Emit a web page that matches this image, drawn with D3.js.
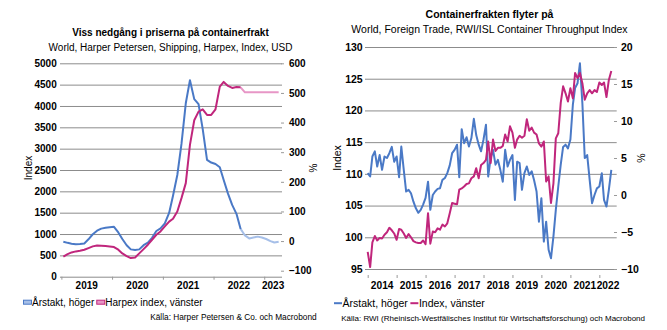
<!DOCTYPE html>
<html>
<head>
<meta charset="utf-8">
<script src="https://cdn.jsdelivr.net/npm/d3@7"></script>
<style>
  body { margin: 0; background: #fff; }
  svg text { font-family: "Liberation Sans", Arial, sans-serif; fill: #000; }
</style>
</head>
<body>
<svg id="chart" width="667" height="330"></svg>
<script>

// ---------------- harpex panel, monthly from jan 2019 ----------------
var harpexStart = new Date(2019, 0, 15);
var harpexIndex = [
  468, 530, 569, 593, 608, 632, 671, 710, 733, 725, 718, 710,
  694, 632, 546, 484, 437, 452, 546, 647, 749, 866, 983, 1061,
  1178, 1290, 1357, 1529, 1841, 2192, 3089, 3666, 3868, 3922, 3790, 3790,
  3922, 4454, 4564, 4470, 4423, 4446, 4438, 4321, 4321, 4321, 4321, 4321,
  4321, 4321, 4321, 4321
];
var harpexYoy = [
  -2, -6, -9, -11, -10, -8, 6, 23, 35, 42, 45, 47,
  48, 29, 7, -14, -28, -30, -28, -14, -5, 11, 34, 43,
  60, 95, 153, 223, 328, 465, 543, 479, 462, 378, 274, 265,
  260, 249, 206, 160, 122, 92, 41, 19, 9, 12, 15, 12,
  7, 0, -5, -2
];
var harpexLightFrom = 42;   // later months drawn in a paler tone
var harpexTicksLeft = [0, 500, 1000, 1500, 2000, 2500, 3000, 3500, 4000, 4500, 5000];
var harpexTicksRight = [-100, 0, 100, 200, 300, 400, 500, 600];
var harpexYears = [2019, 2020, 2021, 2022, 2023];

// ---------------- rwi/isl panel, monthly from jan 2014 ----------------
var rwiStart = new Date(2014, 0, 1);
var rwiIndex = [
  97.7, 95.3, 99.2, 100.2, 99.5, 99.9, 99.8, 100.4, 100.8, 101.5, 101.1, 100.6,
  99.6, 101.3, 101.2, 100.6, 99.9, 100.5, 100.0, 99.4, 99.2, 99.1, 99.1, 99.5,
  98.9, 103.8, 99.0, 100.9, 100.8, 101.4, 101.2, 102.0, 101.7, 102.2, 103.8, 105.4,
  105.3, 105.2, 107.5, 107.7, 108.0, 108.4, 108.5, 109.3, 109.6, 110.9, 109.3, 111.4,
  111.7, 112.2, 115.1, 111.7, 115.4, 113.6, 114.1, 114.1, 114.4, 116.2, 115.1, 117.5,
  116.5, 114.1, 115.4, 116.0, 115.7, 116.0, 118.6, 116.8, 117.3, 116.5, 116.2, 114.8,
  114.3, 115.1, 108.8, 109.6, 105.4, 108.5, 115.6, 116.4, 121.2, 123.8, 122.7, 121.4,
  123.5, 121.9, 125.9, 125.1, 125.9, 124.3, 121.7, 122.7, 123.2, 122.7, 123.2, 122.9,
  124.4, 124.0, 124.4, 122.1, 124.8, 126.2
];
var rwiYoy = [
  2.95, 2.5, 5.2, 5.9, 3.85, 5.4, 3.4, 5.2, 5.0, 5.65, 6.5, 4.5,
  5.2, 2.4, 6.55, 3.4, 0.47, 0.7, 0.24, -0.9, -1.8, -2.4, -2.0, -1.3,
  -0.4, 1.8, -2.0, 0.0, 0.47, 0.83, 0.9, 2.05, 2.3, 2.95, 4.0, 5.65,
  6.1, 6.8, 2.4, 8.9, 7.0, 7.8, 6.55, 7.7, 10.3, 8.1, 6.8, 5.9,
  7.5, 9.5, 2.5, 5.0, 6.1, 4.1, 4.75, 3.4, 1.8, 6.1, 3.85, 4.75,
  5.4, -0.66, 4.5, 4.3, 0.7, 2.95, 3.85, 2.7, 3.2, 2.0, 0.47, -3.6,
  -0.43, -6.3, -3.6, -7.4, -8.55, -5.6, -2.0, 1.15, 4.1, 6.5, 6.8, 6.3,
  7.5, 12.2, 14.45, 15.1, 17.8, 12.4, 5.0, 5.4, 2.05, -1.1, 0.0, 0.9,
  1.15, 2.95, -0.66, -1.56, 0.7, 3.4
];
var rwiTicksLeft = [95, 100, 105, 110, 115, 120, 125, 130];
var rwiTicksRight = [-10, -5, 0, 5, 10, 15, 20];
var rwiYears = [2014, 2015, 2016, 2017, 2018, 2019, 2020, 2021, 2022];

var blue = "#4a79c6", blueLight = "#a6bfe8";
var pink = "#c0267c", pinkLight = "#e796c6";
var gridColor = "#8c8c8c";

var svg = d3.select("#chart");

function toPoints(start, values) {
  return values.map(function(v, i) {
    return { date: d3.timeMonth.offset(start, i), v: v };
  });
}

function drawPanel(p) {
  var g = svg.append("g");
  var fs = p.fontSize + "px";

  var x = d3.scaleTime().domain(p.xDomain).range([p.left, p.right]);
  var yL = d3.scaleLinear().domain(p.leftDomain).range([p.bottom, p.top]);
  var yR = d3.scaleLinear().domain(p.rightDomain).range(p.rightRange);

  // titles
  g.append("text")
      .attr("x", p.titleX).attr("y", p.titleY)
      .style("text-anchor", "middle")
      .style("font-weight", "bold")
      .style("font-size", fs)
      .text(p.title);
  g.append("text")
      .attr("x", p.titleX).attr("y", p.subY)
      .style("text-anchor", "middle")
      .style("font-size", fs)
      .text(p.subtitle);

  // gridlines from the left axis
  g.append("g")
      .attr("class", "grid")
      .attr("transform", "translate(" + p.left + ",0)")
      .call(d3.axisLeft(yL).tickValues(p.ticksLeft).tickSize(-(p.right - p.left)).tickFormat(""))
      .call(function(a) {
        a.select(".domain").remove();
        a.selectAll("line").attr("stroke", gridColor).attr("stroke-width", 1);
      });

  // left axis labels
  g.append("g")
      .attr("transform", "translate(" + p.left + ",0)")
      .call(d3.axisLeft(yL).tickValues(p.ticksLeft).tickSize(0).tickPadding(p.leftPad).tickFormat(d3.format("d")))
      .call(function(a) {
        a.select(".domain").remove();
        a.selectAll("text").style("font-size", fs).style("font-weight", "bold")
          .style("font-family", "'Liberation Sans', Arial, sans-serif").attr("fill", "#000");
      });

  // right axis, small outer ticks
  g.append("g")
      .attr("transform", "translate(" + p.rTickX + ",0)")
      .call(d3.axisRight(yR).tickValues(p.ticksRight).tickSize(3).tickPadding(p.rightPad).tickFormat(d3.format("d")))
      .call(function(a) {
        a.select(".domain").remove();
        a.selectAll("line").attr("stroke", "#9a9a9a");
        a.selectAll("text").style("font-size", fs).style("font-weight", "bold")
          .style("font-family", "'Liberation Sans', Arial, sans-serif").attr("fill", "#000")
          .style("text-anchor", "start");
      });

  // x axis: year ticks, labels in the middle of each year
  var yearStarts = p.years.map(function(y) { return new Date(y, 0, 1); });
  g.append("g")
      .attr("transform", "translate(0," + p.xAxisY + ")")
      .call(d3.axisBottom(x).tickValues(yearStarts).tickSize(3).tickFormat(""))
      .call(function(a) {
        a.select(".domain").remove();
        a.selectAll("line").attr("stroke", "#9a9a9a");
      });

  g.append("g").selectAll("text")
      .data(p.years)
    .enter().append("text")
      .attr("x", function(y) {
        var a = Math.max(x(new Date(y, 0, 1)), p.left),
            b = Math.min(x(new Date(y + 1, 0, 1)), p.right);
        return (a + b) / 2;
      })
      .attr("y", p.yearY)
      .style("text-anchor", "middle")
      .style("font-weight", "bold")
      .style("font-size", p.yearSize + "px")
      .text(function(y) { return y; });

  // axis titles
  g.append("text")
      .attr("transform", "translate(" + p.leftTitleX + "," + p.midY + ") rotate(-90)")
      .style("text-anchor", "middle")
      .style("font-size", fs)
      .text("Index");
  g.append("text")
      .attr("transform", "translate(" + p.rightTitleX + "," + p.midY + ") rotate(-90)")
      .style("text-anchor", "middle")
      .style("font-size", fs)
      .text("%");

  // series
  var lineL = d3.line().x(function(d) { return x(d.date); }).y(function(d) { return yL(d.v); });
  var lineR = d3.line().x(function(d) { return x(d.date); }).y(function(d) { return yR(d.v); });

  p.series.forEach(function(s) {
    var line = s.axis === "left" ? lineL : lineR;
    var pts = toPoints(p.start, s.values);
    var cut = s.lightFrom == null ? pts.length : s.lightFrom + 1;
    if (cut < pts.length) {
      g.append("path")
          .datum(pts.slice(s.lightFrom))
          .attr("fill", "none")
          .attr("stroke", s.light)
          .attr("stroke-width", 2)
          .attr("stroke-linejoin", "round")
          .attr("d", line);
    }
    g.append("path")
        .datum(pts.slice(0, cut))
        .attr("fill", "none")
        .attr("stroke", s.color)
        .attr("stroke-width", 2)
        .attr("stroke-linejoin", "round")
        .attr("d", line);
  });

  // legend
  var lx = p.legendX;
  p.series.slice().sort(function(a, b) { return a.legendOrder - b.legendOrder; }).forEach(function(s) {
    if (p.legendStyle === "bar") {
      g.append("rect")
          .attr("x", lx).attr("y", p.legendY - 5.5)
          .attr("width", 8).attr("height", 4)
          .attr("fill", s.light)
          .attr("stroke", s.color).attr("stroke-width", 1);
    } else {
      g.append("line")
          .attr("x1", lx).attr("x2", lx + 8)
          .attr("y1", p.legendY - 3.5).attr("y2", p.legendY - 3.5)
          .attr("stroke", s.color).attr("stroke-width", 2);
    }
    var t = g.append("text")
        .attr("x", lx + 8.5).attr("y", p.legendY)
        .style("font-size", fs)
        .text(s.label);
    lx += 8.5 + t.node().getComputedTextLength() + 2.5;
  });

  // source note
  g.append("text")
      .attr("x", p.sourceX).attr("y", p.sourceY)
      .style("text-anchor", "end")
      .style("font-size", p.sourceSize + "px")
      .text(p.source);
}

drawPanel({
  title: "Viss nedgång i priserna på containerfrakt",
  subtitle: "World, Harper Petersen, Shipping, Harpex, Index, USD",
  titleX: 170.5, titleY: 36, subY: 50.5,
  fontSize: 10, yearSize: 10,
  left: 60, right: 282, top: 63.3, bottom: 276.7,
  xDomain: [new Date(2018, 11, 22), new Date(2023, 4, 9)],
  leftDomain: [0, 5000], rightDomain: [-100, 600], rightRange: [270.7, 63.3],
  ticksLeft: harpexTicksLeft, ticksRight: harpexTicksRight,
  leftPad: 3.3, rTickX: 281, rightPad: 5,
  years: harpexYears, xAxisY: 276.7, yearY: 288.5,
  leftTitleX: 32, rightTitleX: 317, midY: 168,
  start: harpexStart,
  series: [
    { values: harpexYoy, axis: "right", color: blue, light: blueLight, lightFrom: harpexLightFrom,
      label: "Årstakt, höger", legendOrder: 0 },
    { values: harpexIndex, axis: "left", color: pink, light: pinkLight, lightFrom: harpexLightFrom,
      label: "Harpex index, vänster", legendOrder: 1 }
  ],
  legendStyle: "bar", legendX: 23.5, legendY: 305.7,
  source: "Källa: Harper Petersen & Co. och Macrobond",
  sourceX: 316.7, sourceY: 320, sourceSize: 8.3
});

drawPanel({
  title: "Containerfrakten flyter på",
  subtitle: "World, Foreign Trade, RWI/ISL Container Throughput Index",
  titleX: 489.5, titleY: 17.5, subY: 33.3,
  fontSize: 10.5, yearSize: 10.2,
  left: 365, right: 616.7, top: 47, bottom: 269,
  xDomain: [new Date(2013, 10, 28), new Date(2022, 7, 8)],
  leftDomain: [95, 130], rightDomain: [-10, 20], rightRange: [269, 47],
  ticksLeft: rwiTicksLeft, ticksRight: rwiTicksRight,
  leftPad: 2.3, rTickX: 614, rightPad: 4,
  years: rwiYears, xAxisY: 275, yearY: 288.5,
  leftTitleX: 341, rightTitleX: 645, midY: 158,
  start: rwiStart,
  series: [
    { values: rwiYoy, axis: "right", color: blue, label: "Årstakt, höger", legendOrder: 0 },
    { values: rwiIndex, axis: "left", color: pink, label: "Index, vänster", legendOrder: 1 }
  ],
  legendStyle: "line", legendX: 334, legendY: 306.7,
  source: "Källa: RWI (Rheinisch-Westfälisches Institut für Wirtschaftsforschung) och Macrobond",
  sourceX: 645, sourceY: 320.7, sourceSize: 8.0
});

</script>
</body>
</html>
